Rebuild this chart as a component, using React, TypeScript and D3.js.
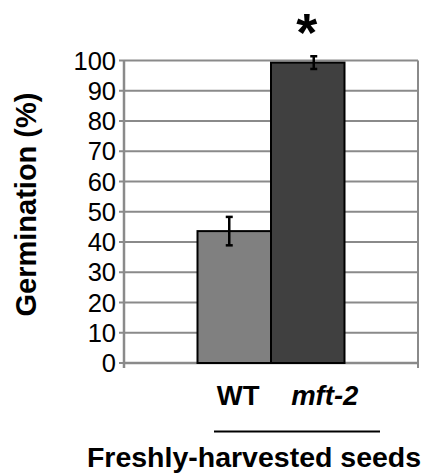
import React from "react";
import * as d3 from "d3";

const categories = ["Freshly-harvested seeds"];
const seriesNames = ["WT", "mft-2"];
const seriesValues = [43.6, 99.3];
const seriesErrors = [4.7, 2.1];
const yTicks = [0, 10, 20, 30, 40, 50, 60, 70, 80, 90, 100];
const yLabel = "Germination (%)";
const significance = ["", "*"];

const W = 432;
const H = 474;
const FONT = "'Liberation Sans', Arial, Helvetica, sans-serif";

export default function App() {
  const left = 124;
  const right = 418;
  const top = 60.5;
  const bottom = 363;

  const y = d3.scaleLinear().domain([0, 100]).range([bottom, top]);
  const x0 = d3.scaleBand<string>().domain(categories).range([left, right]).padding(0);
  const x1 = d3
    .scaleBand<string>()
    .domain(seriesNames)
    .range([0, x0.bandwidth()])
    .paddingInner(0)
    .paddingOuter(1);

  const colors = ["#808080", "#404040"];
  const errOffsets = [-5, 6];
  const labelOffsets = [4, 17];
  const grid = "#8a8a8a";

  const cat = categories[0];
  const bx = (i: number) => (x0(cat) as number) + (x1(seriesNames[i]) as number);
  const bw = x1.bandwidth();

  return (
    <svg
      width={W}
      height={H}
      style={{ position: "absolute", left: 0, top: 0, background: "#fff" }}
      fontFamily={FONT}
    >
      {yTicks.map((t) => (
        <line key={"g" + t} x1={left} x2={right} y1={y(t)} y2={y(t)} stroke={grid} strokeWidth={2} />
      ))}
      <line x1={left} x2={left} y1={top} y2={bottom + 5} stroke={grid} strokeWidth={2.5} />
      <line x1={right} x2={right} y1={top} y2={bottom + 5} stroke={grid} strokeWidth={2} />
      {yTicks.map((t) => (
        <line key={"t" + t} x1={left - 5} x2={left} y1={y(t)} y2={y(t)} stroke={grid} strokeWidth={2} />
      ))}
      <line x1={left} x2={right} y1={bottom} y2={bottom} stroke={grid} strokeWidth={2.5} />
      {yTicks.map((t) => (
        <text
          key={"l" + t}
          x={116}
          y={y(t)}
          dy="0.36em"
          textAnchor="end"
          fontSize={25.5}
          fill="#000"
        >
          {t}
        </text>
      ))}
      {seriesValues.map((v, i) => (
        <rect
          key={"b" + i}
          x={bx(i)}
          y={y(v)}
          width={bw}
          height={bottom - y(v)}
          fill={colors[i]}
          stroke="#000"
          strokeWidth={2}
        />
      ))}
      {seriesValues.map((v, i) => {
        const cx = bx(i) + bw / 2 + errOffsets[i];
        const y1 = y(v + seriesErrors[i]);
        const y2 = y(v - seriesErrors[i]);
        return (
          <g key={"e" + i} stroke="#000" strokeWidth={2.5}>
            <line x1={cx} x2={cx} y1={y1} y2={y2} />
            <line x1={cx - 3.5} x2={cx + 3.5} y1={y1} y2={y1} />
            <line x1={cx - 3.5} x2={cx + 3.5} y1={y2} y2={y2} />
          </g>
        );
      })}
      {significance.map((s, i) =>
        s ? (
          <text
            key={"s" + i}
            x={bx(i) + bw / 2 - 1}
            y={50.5}
            textAnchor="middle"
            fontSize={54}
            fontWeight="bold"
          >
            {s}
          </text>
        ) : null
      )}
      {seriesNames.map((n, i) => (
        <text
          key={"n" + i}
          x={bx(i) + bw / 2 + labelOffsets[i]}
          y={405}
          textAnchor="middle"
          fontSize={27.5}
          fontWeight="bold"
          fontStyle={i === 1 ? "italic" : "normal"}
        >
          {n}
        </text>
      ))}
      <line x1={214} x2={380} y1={431.5} y2={431.5} stroke="#000" strokeWidth={2} />
      <text x={254} y={467} textAnchor="middle" fontSize={28.5} fontWeight="bold">
        {cat}
      </text>
      <text
        transform={`translate(36,${204.5}) rotate(-90)`}
        textAnchor="middle"
        fontSize={29}
        fontWeight="bold"
      >
        {yLabel}
      </text>
    </svg>
  );
}
